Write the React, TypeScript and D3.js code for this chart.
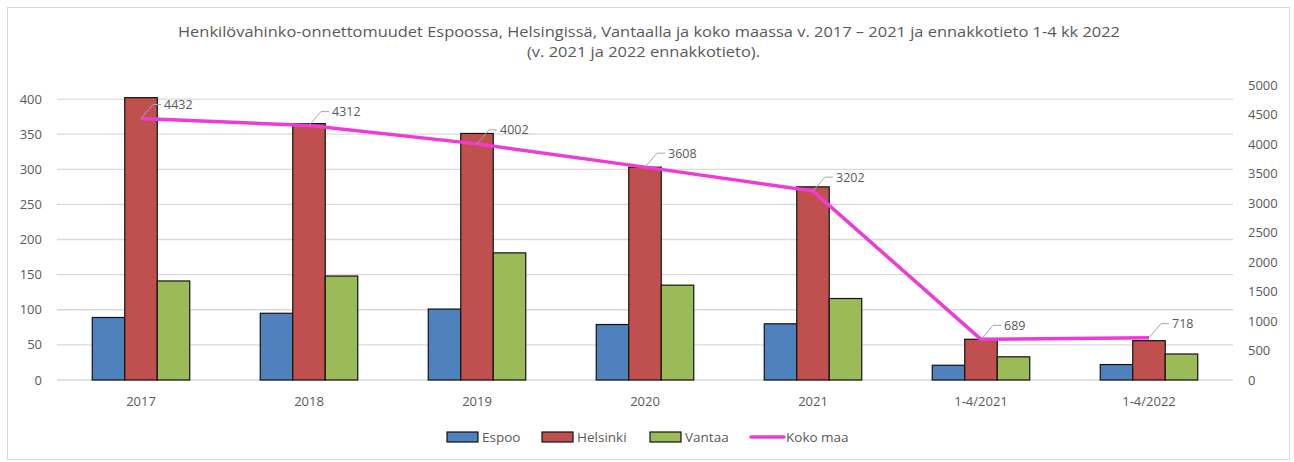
import React from "react";
import * as d3 from "d3";

const categories = ["2017", "2018", "2019", "2020", "2021", "1-4/2021", "1-4/2022"];
const espoo = [89, 95, 101, 79, 80, 21, 22];
const helsinki = [402, 365, 351, 303, 275, 58, 56];
const vantaa = [141, 148, 181, 135, 116, 33, 37];
const kokoMaa = [4432, 4312, 4002, 3608, 3202, 689, 718];
const leftTicks = [0, 50, 100, 150, 200, 250, 300, 350, 400];
const rightTicks = [0, 500, 1000, 1500, 2000, 2500, 3000, 3500, 4000, 4500, 5000];
const seriesNames = ["Espoo", "Helsinki", "Vantaa"];
const seriesColors = ["#4F81BD", "#C0504D", "#9BBB59"];
const lineColor = "#EE3BD8";
const titleLines = [
  "Henkilövahinko-onnettomuudet Espoossa, Helsingissä, Vantaalla ja koko maassa v. 2017 – 2021 ja ennakkotieto 1-4 kk 2022",
  "(v. 2021 ja 2022 ennakkotieto).",
];

const W = 1294;
const H = 462;
const FONT = "'Open Sans', 'Noto Sans', sans-serif";
const TXT = "#595959";

export default function App() {
  const plot = { left: 57, right: 1233, top: 85, bottom: 380 };
  const x = d3.scaleBand<string>().domain(categories).range([plot.left, plot.right]).padding(0);
  const xs = d3
    .scaleBand<string>()
    .domain(seriesNames)
    .range([0, x.bandwidth()])
    .paddingInner(0)
    .paddingOuter(1.085);
  const yL = d3.scaleLinear().domain([0, 420]).range([plot.bottom, plot.top]);
  const yR = d3.scaleLinear().domain([0, 5000]).range([plot.bottom, plot.top]);
  const seriesData = [espoo, helsinki, vantaa];

  const line = d3
    .line<number>()
    .x((_, i) => (x(categories[i]) as number) + x.bandwidth() / 2)
    .y((d) => yR(d));

  const legendItems = [
    { name: "Espoo", kind: "rect", color: seriesColors[0], x: 447 },
    { name: "Helsinki", kind: "rect", color: seriesColors[1], x: 542 },
    { name: "Vantaa", kind: "rect", color: seriesColors[2], x: 650 },
    { name: "Koko maa", kind: "line", color: lineColor, x: 751 },
  ];

  return (
    <div style={{ position: "absolute", left: 0, top: 0 }}>
      <svg width={W} height={H} style={{ display: "block" }}>
        <rect x={0} y={0} width={W} height={H} fill="#fff" />
        <rect x={7.5} y={7.5} width={1282} height={452} fill="#fff" stroke="#D9D9D9" strokeWidth={1} />
        {titleLines.map((t, i) => (
          <text
            key={i}
            x={i === 0 ? 649 : 643.5}
            y={i === 0 ? 37 : 57}
            textAnchor="middle"
            fontFamily={FONT}
            fontSize={15}
            fill={TXT}
            textLength={i === 0 ? 942 : 233}
            lengthAdjust="spacingAndGlyphs"
          >
            {t}
          </text>
        ))}
        {leftTicks.map((t) => (
          <line key={"g" + t} x1={plot.left} x2={plot.right} y1={yL(t)} y2={yL(t)} stroke="#D9D9D9" strokeWidth={1.3} />
        ))}
        {leftTicks.map((t) => (
          <text key={"l" + t} x={42} y={yL(t) + 4.5} textAnchor="end" fontFamily={FONT} fontSize={13} fill={TXT}>
            {t}
          </text>
        ))}
        {rightTicks.map((t) => (
          <text key={"r" + t} x={1248} y={yR(t) + 4.5} textAnchor="start" fontFamily={FONT} fontSize={13} fill={TXT}>
            {t}
          </text>
        ))}
        {categories.map((c) => (
          <text
            key={"c" + c}
            x={(x(c) as number) + x.bandwidth() / 2}
            y={406}
            textAnchor="middle"
            fontFamily={FONT}
            fontSize={13}
            fill={TXT}
          >
            {c}
          </text>
        ))}
        {seriesData.map((vals, si) =>
          vals.map((v, i) => {
            const bx = (x(categories[i]) as number) + (xs(seriesNames[si]) as number);
            return (
              <rect
                key={si + "-" + i}
                x={bx}
                y={yL(v)}
                width={xs.bandwidth()}
                height={yL(0) - yL(v)}
                fill={seriesColors[si]}
                stroke="#111"
                strokeWidth={1.2}
              />
            );
          })
        )}
        <path d={line(kokoMaa) as string} fill="none" stroke={lineColor} strokeWidth={3.5} strokeLinejoin="round" />
        {kokoMaa.map((v, i) => {
          const px = (x(categories[i]) as number) + x.bandwidth() / 2;
          const py = yR(v);
          return (
            <g key={"dl" + i}>
              <polyline
                points={`${px},${py} ${px + 12},${py - 14} ${px + 20},${py - 14}`}
                fill="none"
                stroke="#A6A6A6"
                strokeWidth={1}
              />
              <text x={px + 23} y={py - 9.5} fontFamily={FONT} fontSize={12.5} fill={TXT}>
                {v}
              </text>
            </g>
          );
        })}
        {legendItems.map((it) => (
          <g key={it.name}>
            {it.kind === "rect" ? (
              <rect x={it.x} y={432} width={31} height={10} fill={it.color} stroke="#111" strokeWidth={1.2} />
            ) : (
              <line x1={it.x} x2={it.x + 33} y1={437} y2={437} stroke={it.color} strokeWidth={3.5} strokeLinecap="round" />
            )}
            <text
              x={it.x + (it.kind === "rect" ? 35 : 35)}
              y={441.5}
              fontFamily={FONT}
              fontSize={13.5}
              fill={TXT}
            >
              {it.name}
            </text>
          </g>
        ))}
      </svg>
    </div>
  );
}
